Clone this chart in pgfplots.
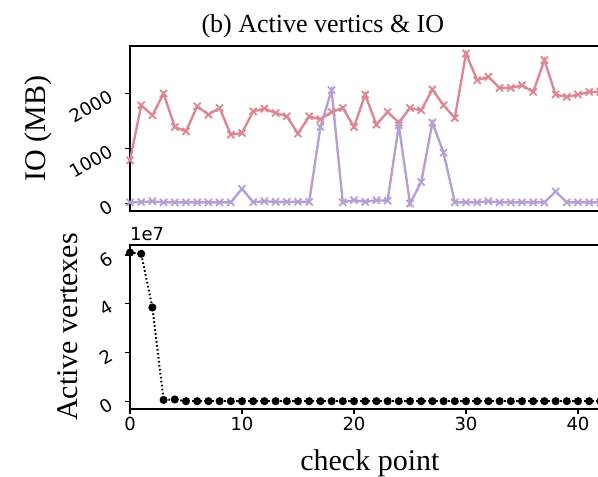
\documentclass[border=0pt]{standalone}
\usepackage{fontspec}
\setmainfont{Liberation Serif}
\newfontfamily\tickfont{DejaVu Sans}
\usepackage{pgfplots}
\usepackage{pgfplotstable}
\pgfplotsset{compat=1.18}

\definecolor{ioread}{RGB}{220,135,145}
\definecolor{iowrite}{RGB}{180,160,212}

% IO per check point (MB)
\pgfplotstableread{
x  rd   wr
0  782  20
1  1782 25
2  1600 40
3  1994 20
4  1388 20
5  1309 20
6  1764 20
7  1612 20
8  1733 20
9  1248 20
10 1279 267
11 1673 25
12 1721 40
13 1642 30
14 1582 30
15 1267 30
16 1582 30
17 1527 1388
18 1661 2055
19 1733 20
20 1388 60
21 1976 30
22 1430 60
23 1661 50
24 1467 1418
25 1733 0
26 1691 388
27 2067 1467
28 1782 921
29 1552 20
30 2721 20
31 2236 20
32 2297 40
33 2097 20
34 2097 20
35 2145 20
36 2024 20
37 2600 20
38 1976 218
39 1933 20
40 1976 20
41 2024 20
42 2030 20
}\iotable

% active vertexes per check point
\pgfplotstableread{
x  act
0  6.1e7
1  6.05e7
2  3.85e7
3  6e5
4  8e5
5  1e5
6  1e5
7  1e5
8  1e5
9  1e5
10 1e5
11 1e5
12 1e5
13 1e5
14 1e5
15 1e5
16 1e5
17 1e5
18 1e5
19 1e5
20 1e5
21 1e5
22 1e5
23 1e5
24 1e5
25 1e5
26 1e5
27 1e5
28 1e5
29 1e5
30 1e5
31 1e5
32 1e5
33 1e5
34 1e5
35 1e5
36 1e5
37 1e5
38 1e5
39 1e5
40 1e5
41 1e5
42 1e5
}\acttable

\begin{document}
\begin{tikzpicture}
\pgfplotsset{
  panel/.style={
    scale only axis, width=470.4pt, height=165pt,
    xmin=0, xmax=42, clip=false,
    axis line style={line width=1.2pt},
    tick align=outside, major tick length=5pt, tick pos=left,
    every tick/.style={black, line width=1.2pt},
    ticklabel style={font=\tickfont\fontsize{18}{20}\selectfont},
    /pgf/number format/assume math mode=true,
    /pgf/number format/1000 sep={},
    label style={font=\fontsize{30}{32}\selectfont},
    yticklabel style={xshift=-11pt, rotate=30, anchor=east},
  }
}
% top: IO
\begin{axis}[panel, at={(0,198pt)}, anchor=south west,
  ymin=-136, ymax=2857, ytick={0,1000,2000}, xtick=\empty,
  title={(b) Active vertics \& IO},
  title style={font=\fontsize{26}{28}\selectfont, at={(axis description cs:0.41,1)}, anchor=base, yshift=7pt},
  ylabel={IO (MB)},
  ylabel style={at={(axis description cs:-0.194,0.5)}, anchor=center}]
  \addplot[ioread, line width=2.4pt, mark=x, mark size=5pt, mark options={line width=1.8pt}] table[x=x, y=rd] {\iotable};
  \addplot[iowrite, line width=2.4pt, mark=x, mark size=5pt, mark options={line width=1.8pt}] table[x=x, y=wr] {\iotable};
\end{axis}
% bottom: active vertexes
\begin{axis}[panel, at={(0,0)}, anchor=south west, height=164pt,
  ymin=-0.31e7, ymax=6.41e7, ytick={0,2e7,4e7,6e7}, yticklabels={0,2,4,6},
  scaled y ticks=false, xtick={0,10,20,30,40},
  xlabel={check point},
  xlabel style={at={(axis description cs:0.51,0)}, anchor=base, yshift=-61pt},
  ylabel={Active vertexes},
  ylabel style={at={(axis description cs:-0.132,0.5)}, anchor=center}]
  \addplot[black, line width=2pt, dash pattern=on 1.6pt off 2.4pt, mark=*, mark size=3pt, mark options={solid}] table[x=x, y=act] {\acttable};
  \node[anchor=south west, inner sep=0pt, font=\tickfont\fontsize{18}{20}\selectfont] at (axis description cs:0,1) [yshift=4pt] {1e7};
\end{axis}
\pgfresetboundingbox
\useasboundingbox (-130pt,-68pt) rectangle (468pt,409pt);
\end{tikzpicture}
\end{document}
